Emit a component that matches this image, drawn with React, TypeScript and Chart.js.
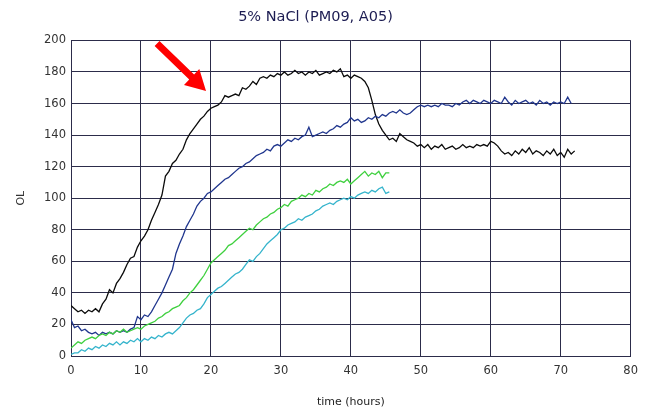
import React, { useEffect, useRef } from "react";
import { Chart, registerables } from "chart.js";

Chart.register(...registerables);

const TITLE = "5% NaCl (PM09, A05)";
const X_TITLE = "time (hours)";
const Y_TITLE = "OL";
const T_STEP = 0.5; // hours between readings

const BLACK = [32,30,28,29,27,29,28,30,28,33,
  36,42,40,46,49,53,58,62,63,69,
  73,76,80,86,91,96,102,114,117,122,
  124,128,131,137,141,144,147,150,152,155,
  157,158,159,161,165,164,165,166,165,170,
  169,171,174,172,176,177,176,178,177,179,
  178,180,178,179,181,179,180,178,180,179,
  181,178,179,180,179,181,180,182,177,178,
  176,178,177,176,174,170,162,153,147,143,
  140,137,138,136,141,139,137,136,135,133,
  134,132,134,131,133,132,134,131,132,133,
  131,132,134,132,133,132,134,133,134,133,
  136,135,133,130,128,129,127,130,128,131,
  129,132,128,130,129,127,130,128,131,127,
  129,126,131,128,130];

const BLUE = [23,18,19,16,17,15,14,15,13,15,
  14,15,14,16,15,16,15,17,18,25,
  23,26,25,28,32,36,40,45,50,55,
  65,71,76,82,86,90,95,98,100,103,
  104,106,108,110,112,113,115,117,119,120,
  122,123,125,127,128,129,131,130,133,134,
  133,135,137,136,138,137,139,140,145,139,
  140,141,142,141,143,144,146,145,147,148,
  151,149,150,148,149,151,150,152,151,153,
  152,154,155,154,156,154,153,154,156,158,
  159,158,159,158,159,158,160,159,159,158,
  160,159,161,162,160,162,161,160,162,161,
  160,162,161,160,164,161,159,162,160,161,
  162,160,161,159,162,160,161,159,161,160,
  161,160,164,160];

const GREEN = [5,7,9,8,10,11,12,11,13,14,
  13,15,14,16,15,17,15,16,17,18,
  17,19,20,21,22,24,25,27,28,30,
  31,32,35,37,40,42,45,48,51,55,
  59,61,63,65,67,70,71,73,75,77,
  79,81,80,83,85,87,88,90,91,93,
  94,96,95,98,99,100,102,101,103,102,
  105,104,106,107,109,108,110,111,110,112,
  109,111,113,115,117,114,116,115,117,113,
  116,116];

const CYAN = [1,2,2,4,3,5,4,6,5,7,
  6,8,7,9,7,9,8,10,9,11,
  9,11,10,12,11,13,12,14,15,14,
  16,18,21,24,26,27,29,30,33,37,
  39,41,43,44,46,48,50,52,53,55,
  58,61,60,63,65,68,71,73,75,77,
  80,81,83,84,85,87,86,88,89,90,
  92,93,95,96,97,96,98,99,100,99,
  101,100,102,103,104,103,105,104,106,107,
  103,104];

// arrow annotation in data coordinates [hours, value]
const ARROW_FROM = [12.3, 198];
const ARROW_TO = [19.3, 168];

const toPoints = (vals: number[]) => vals.map((y, i) => ({ x: i * T_STEP, y }));

const GRID = "#2c2c4a";
const FONT = "'DejaVu Sans', sans-serif";

const arrowPlugin = {
  id: "arrowAnno",
  afterDatasetsDraw(chart: any) {
    const { ctx, scales } = chart;
    const x1 = scales.x.getPixelForValue(ARROW_FROM[0]);
    const y1 = scales.y.getPixelForValue(ARROW_FROM[1]);
    const x2 = scales.x.getPixelForValue(ARROW_TO[0]);
    const y2 = scales.y.getPixelForValue(ARROW_TO[1]);
    const ang = Math.atan2(y2 - y1, x2 - x1);
    const len = Math.hypot(x2 - x1, y2 - y1);
    const headLen = 20;
    const headW = 11;
    const shaftW = 3.5;
    ctx.save();
    ctx.translate(x1, y1);
    ctx.rotate(ang);
    ctx.fillStyle = "#ff0000";
    ctx.beginPath();
    ctx.moveTo(0, -shaftW);
    ctx.lineTo(len - headLen, -shaftW);
    ctx.lineTo(len - headLen, -headW);
    ctx.lineTo(len, 0);
    ctx.lineTo(len - headLen, headW);
    ctx.lineTo(len - headLen, shaftW);
    ctx.lineTo(0, shaftW);
    ctx.closePath();
    ctx.fill();
    ctx.restore();
  },
};

export default function App() {
  const ref = useRef<HTMLCanvasElement | null>(null);
  useEffect(() => {
    if (!ref.current) return;
    const mk = (label: string, vals: number[], color: string) => ({
      label,
      data: toPoints(vals),
      borderColor: color,
      backgroundColor: color,
      borderWidth: 1.3,
      pointRadius: 0,
      tension: 0,
      fill: false,
    });
    const chart = new Chart(ref.current, {
      type: "line",
      data: {
        datasets: [
          mk("cyan", CYAN, "#35b4cc"),
          mk("green", GREEN, "#3fd03f"),
          mk("blue", BLUE, "#20368e"),
          mk("black", BLACK, "#0b0b0b"),
        ],
      },
      options: {
        animation: false,
        responsive: false,
        maintainAspectRatio: false,
        layout: { padding: { left: 0, right: 15, top: 0, bottom: 0 } },
        plugins: {
          legend: { display: false },
          tooltip: { enabled: false },
          title: {
            display: true,
            text: TITLE,
            color: "#1c1c52",
            font: { family: FONT, size: 14.5, weight: "normal" },
            padding: { top: 9, bottom: 14 },
          },
        },
        scales: {
          x: {
            type: "linear",
            min: 0,
            max: 80,
            ticks: { stepSize: 10, color: "#333", font: { family: FONT, size: 11.5 }, padding: 8, maxRotation: 0 },
            grid: { color: GRID, lineWidth: 1, drawTicks: false },
            border: { color: GRID, width: 1 },
            title: { display: true, text: X_TITLE, color: "#222", font: { family: FONT, size: 11 }, padding: { top: 0, bottom: 0 } },
            afterFit(scale: any) { scale.height = 53; },
          },
          y: {
            min: 0,
            max: 200,
            ticks: { stepSize: 20, color: "#333", font: { family: FONT, size: 11.5 }, padding: 5 },
            grid: { color: GRID, lineWidth: 1, drawTicks: false },
            border: { color: GRID, width: 1 },
            title: { display: true, text: Y_TITLE, color: "#333", font: { family: FONT, size: 11 }, padding: { top: 15, bottom: 0 } },
            afterFit(scale: any) { scale.width = 71; },
          },
        },
      },
      plugins: [arrowPlugin],
    });
    return () => chart.destroy();
  }, []);
  return (
    <div style={{ position: "absolute", left: 0, top: 0, width: 646, height: 409, background: "#fff" }}>
      <canvas ref={ref} width={646} height={409} />
    </div>
  );
}
